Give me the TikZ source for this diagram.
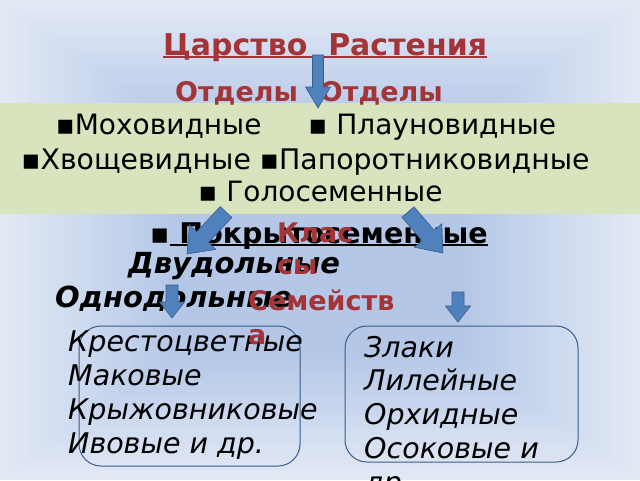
\documentclass[tikz,border=0pt]{standalone}
\usepackage{fontspec}
\setmainfont{DejaVu Sans}
\usetikzlibrary{calc}
\definecolor{titlered}{RGB}{163,53,56}
\definecolor{arrowblue}{RGB}{79,129,189}
\definecolor{arrowedge}{RGB}{56,93,138}
\definecolor{bandgreen}{RGB}{215,228,189}
\definecolor{bgout}{RGB}{226,233,245}
\definecolor{bgin}{RGB}{180,199,231}
\newcommand{\thickul}[1]{\setbox0\hbox{#1}\rlap{\rule[-3pt]{\wd0}{2pt}}\box0}
\newcommand{\blockarrow}[5]{%
  \draw[bigarrow] let \p1=($(#2)-(#1)$), \n1={veclen(\x1,\y1)}, \n2={atan2(\y1,\x1)} in
    [shift={(#1)}, rotate=\n2] (0pt,#3pt) -- ({\n1-#5pt},#3pt) -- ({\n1-#5pt},#4pt) -- (\n1,0pt)
    -- ({\n1-#5pt},-#4pt) -- ({\n1-#5pt},-#3pt) -- (0pt,-#3pt) -- cycle;}

\begin{document}
\begin{tikzpicture}[x=1pt, y=-1pt,
  bigarrow/.style={fill=arrowblue, draw=arrowedge, line width=0.6pt},
  heading/.style={text=titlered, font=\bfseries\fontsize{27}{32}\selectfont, inner sep=0pt, anchor=base},
  redlabel/.style={text=titlered, inner sep=0pt, align=left, anchor=base west},
  bandtext/.style={font=\fontsize{28}{32}\selectfont, inner sep=0pt, anchor=base},
  kind/.style={font=\bfseries\itshape\fontsize{29}{32}\selectfont, inner sep=0pt, anchor=base},
  family/.style={font=\itshape\fontsize{28.5}{33.7}\selectfont, inner sep=0pt, align=left, anchor=base west},
  familybox/.style={draw=arrowedge, line width=1pt, rounded corners=22pt}]
\useasboundingbox (0,0) rectangle (640,480);
\foreach \i in {0,...,25}
  \fill[bgin!\the\numexpr\i*4\relax!bgout] (\i*7,\i*5) rectangle (640-\i*7,480-\i*5);
\fill[bandgreen] (0,103) rectangle (640,214);

\node[heading, font=\bfseries\fontsize{30}{34}\selectfont] (kingdom) at (325,55) {\thickul{Царство\ \ Растения}};
\node[heading] (divisions) at (309,101) {Отделы\hspace{22pt}Отделы};
\node[bandtext] (row1) at (306,134) {▪Моховидные\hspace{47pt}▪ Плауновидные};
\node[bandtext, font=\fontsize{28.3}{32}\selectfont] (row2) at (305.5,169) {▪Хвощевидные ▪Папоротниковидные};
\node[bandtext] (row3) at (320.5,201) {▪ Голосеменные};
\node[bandtext, font=\bfseries\fontsize{28.5}{32}\selectfont] (angio) at (319,243) {▪\thickul{\ Покрытосеменные}};
\node[kind] (dicot) at (234,273) {Двудольные};
\node[kind] (monocot) at (173.5,307) {Однодольные};

\coordinate (a0) at (318,55);   \coordinate (a1) at (318,108);
\coordinate (l0) at (226,212);  \coordinate (l1) at (187,254);
\coordinate (r0) at (408,212);  \coordinate (r1) at (443,253);
\coordinate (sl0) at (172,285); \coordinate (sl1) at (172,318);
\coordinate (sr0) at (458,292); \coordinate (sr1) at (458,322);
\blockarrow{a0}{a1}{5.5}{12.5}{21}
\blockarrow{l0}{l1}{8}{18}{23}
\blockarrow{r0}{r1}{8}{18}{23}
\blockarrow{sl0}{sl1}{6}{12.5}{16}
\blockarrow{sr0}{sr1}{6}{12.5}{16}

\draw[familybox] (79,326) rectangle (300,466);
\draw[familybox] (345,326) rectangle (578,462);
\node[family] (dicotlist) at (68,453) {Крестоцветные\\Маковые\\Крыжовниковые\\Ивовые и др.};
\node[family] (monolist) at (364,492) {Злаки\\Лилейные\\Орхидные\\Осоковые и\\др.};

\node[redlabel, font=\bfseries\fontsize{27}{32}\selectfont] (classes) at (277,274) {Клас\\сы};
\node[redlabel, font=\bfseries\fontsize{27}{34}\selectfont] (families) at (248,344) {Семейств\\а};
\end{tikzpicture}
\end{document}
